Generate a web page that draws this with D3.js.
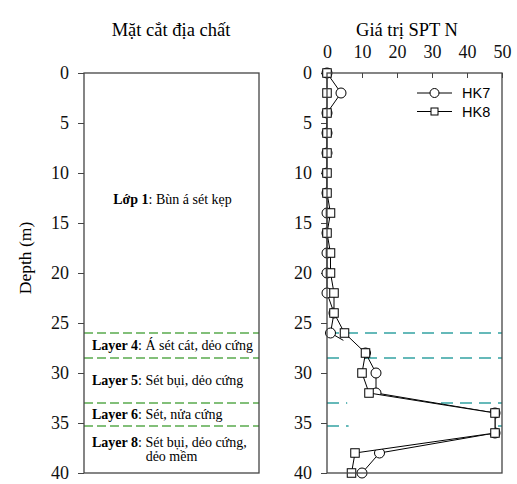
<!DOCTYPE html>
<html>
<head>
<meta charset="utf-8">
<script src="https://cdn.jsdelivr.net/npm/d3@7"></script>
<style>
  body { margin: 0; background: #fff; }
  svg { display: block; }
  svg text { font-family: "Liberation Serif", "Times New Roman", serif; }
</style>
</head>
<body>
<div id="chart"></div>
<script>
// Data
const depths = [0, 2, 4, 6, 8, 10, 12, 14, 16, 18, 20, 22, 24, 26, 28, 30, 32, 34, 36, 38, 40];
const hk7 = [0, 4, 0, 0, 0, 0, 0, 0, 0, 0, 0, 0, 2, 1, 11, 14, 14, 48, 48, 15, 10];
const hk8 = [0, 0, 0, 0, 0, 0, 0, 1, 0, 1, 1, 2, 2, 5, 11, 10, 12, 48, 48, 8, 7];
const seriesNames = ["HK7", "HK8"];

const depthTicks = [0, 5, 10, 15, 20, 25, 30, 35, 40];
const sptTicks = [0, 10, 20, 30, 40, 50];

// layer boundaries (m) and descriptions
const boundaries = [26, 28.5, 33, 35.3];
const layerTops = [0, 26, 28.5, 33, 35.3];
const layerBottoms = [26, 28.5, 33, 35.3, 40];
const layerNames = ["Lớp 1", "Layer 4", "Layer 5", "Layer 6", "Layer 8"];
const layerDescs = [": Bùn á sét kẹp", ": Á sét cát, dẻo cứng", ": Sét bụi, dẻo cứng", ": Sét, nửa cứng", ": Sét bụi, dẻo cứng,"];
const layerDescLine2 = [null, null, null, null, "dẻo mềm"];

const W = 517, H = 484;
const axisColor = "#444";

const svg = d3.select("#chart").append("svg")
    .attr("width", W)
    .attr("height", H);

const y = d3.scaleLinear().domain([0, 40]).range([73, 473]);
const xL = [84, 259];                       // geology column
const x = d3.scaleLinear().domain([0, 50]).range([327, 502]);

function styleAxis(g) {
    g.attr("font-family", null).attr("font-size", null);
    g.select(".domain").remove();
    g.selectAll("line").attr("stroke", axisColor);
    g.selectAll("text").attr("fill", "#111").style("font-size", "18px");
}

// ---------- Left panel: geological column ----------
svg.append("text")
    .attr("x", 171).attr("y", 36)
    .attr("text-anchor", "middle")
    .style("font-size", "18.5px")
    .text("Mặt cắt địa chất");

svg.append("text")
    .attr("transform", `translate(31,258) rotate(-90)`)
    .attr("text-anchor", "middle")
    .style("font-size", "17.5px")
    .text("Depth (m)");

svg.append("g")
    .attr("transform", `translate(${xL[0]},0)`)
    .call(d3.axisLeft(y).tickValues(depthTicks).tickSize(6).tickPadding(9))
    .call(styleAxis);

svg.selectAll("line.geo-bound")
    .data(boundaries)
    .join("line")
    .attr("class", "geo-bound")
    .attr("x1", xL[0]).attr("x2", xL[1])
    .attr("y1", d => y(d)).attr("y2", d => y(d))
    .attr("stroke", "#5aaa4e")
    .attr("stroke-width", 1.6)
    .attr("stroke-dasharray", "9,4");

svg.append("rect")
    .attr("x", xL[0]).attr("y", y(0))
    .attr("width", xL[1] - xL[0]).attr("height", y(40) - y(0))
    .attr("fill", "none")
    .attr("stroke", axisColor)
    .attr("stroke-width", 1.3);

// layer labels
layerNames.forEach((name, i) => {
    const mid = (layerTops[i] + layerBottoms[i]) / 2;
    const twoLines = layerDescLine2[i] !== null;
    const centered = i === 0;
    const t = svg.append("text")
        .attr("x", centered ? (xL[0] + xL[1]) / 2 + 1 : 92)
        .attr("y", y(mid) + (twoLines ? -7 : 0) - (centered ? 4 : 0))
        .attr("dy", "0.35em")
        .attr("text-anchor", centered ? "middle" : "start")
        .style("font-size", "14px");
    t.append("tspan").style("font-weight", "bold").text(name);
    t.append("tspan").text(layerDescs[i]);
    if (twoLines) {
        svg.append("text")
            .attr("x", (xL[0] + xL[1]) / 2)
            .attr("y", y(mid) + 7)
            .attr("dy", "0.35em")
            .attr("text-anchor", "middle")
            .style("font-size", "14px")
            .text(layerDescLine2[i]);
    }
});

// ---------- Right panel: SPT N ----------
svg.append("text")
    .attr("x", 407).attr("y", 36)
    .attr("text-anchor", "middle")
    .style("font-size", "18.5px")
    .text("Giá trị SPT N");

svg.append("g")
    .attr("transform", `translate(${x(0)},0)`)
    .call(d3.axisLeft(y).tickValues(depthTicks).tickSize(6).tickPadding(9))
    .call(styleAxis);

svg.append("g")
    .attr("transform", `translate(0,${y(0)})`)
    .call(d3.axisTop(x).tickValues(sptTicks).tickSize(-5).tickPadding(15))
    .call(styleAxis);

// layer boundaries carried over
svg.selectAll("line.spt-bound")
    .data(boundaries)
    .join("line")
    .attr("class", "spt-bound")
    .attr("x1", x(0)).attr("x2", x(50))
    .attr("y1", d => y(d)).attr("y2", d => y(d))
    .attr("stroke", "#33a3a3")
    .attr("stroke-width", 1.6)
    .attr("stroke-dasharray", "12,7");

const line = d3.line().x(d => x(d[0])).y(d => y(d[1]));
const pts7 = hk7.map((v, i) => [v, depths[i]]);
const pts8 = hk8.map((v, i) => [v, depths[i]]);

// HK7
svg.append("path")
    .attr("d", line(pts7))
    .attr("fill", "none")
    .attr("stroke", "#000")
    .attr("stroke-width", 1);
svg.selectAll("circle.hk7")
    .data(pts7)
    .join("circle")
    .attr("class", "hk7")
    .attr("cx", d => x(d[0])).attr("cy", d => y(d[1]))
    .attr("r", 5)
    .attr("fill", "#fff")
    .attr("stroke", "#000")
    .attr("stroke-width", 1);

// HK8 (white filled area covers what lies under it)
svg.append("path")
    .attr("d", line(pts8) + "Z")
    .attr("fill", "#fff")
    .attr("stroke", "none");
svg.append("path")
    .attr("d", line(pts8))
    .attr("fill", "none")
    .attr("stroke", "#000")
    .attr("stroke-width", 1);
svg.selectAll("rect.hk8")
    .data(pts8)
    .join("rect")
    .attr("class", "hk8")
    .attr("x", d => x(d[0]) - 4.25).attr("y", d => y(d[1]) - 4.25)
    .attr("width", 8.5).attr("height", 8.5)
    .attr("fill", "#fff")
    .attr("stroke", "#000")
    .attr("stroke-width", 1);

svg.append("rect")
    .attr("x", x(0)).attr("y", y(0))
    .attr("width", x(50) - x(0)).attr("height", y(40) - y(0))
    .attr("fill", "none")
    .attr("stroke", axisColor)
    .attr("stroke-width", 1.3);

// legend
const legend = svg.append("g").attr("transform", "translate(417,93)");
seriesNames.forEach((name, i) => {
    const g = legend.append("g").attr("transform", `translate(0,${i * 18.5})`);
    g.append("line").attr("x1", 0).attr("x2", 35).attr("stroke", "#000");
    if (i === 0) {
        g.append("circle").attr("cx", 17.5).attr("r", 4.5)
            .attr("fill", "#fff").attr("stroke", "#000");
    } else {
        g.append("rect").attr("x", 14).attr("y", -3.5).attr("width", 7).attr("height", 7)
            .attr("fill", "#fff").attr("stroke", "#000");
    }
    g.append("text")
        .attr("x", 45).attr("dy", "0.36em")
        .style("font-family", "'Liberation Sans', Arial, sans-serif")
        .style("font-size", "14.5px")
        .text(name);
});
</script>
</body>
</html>
